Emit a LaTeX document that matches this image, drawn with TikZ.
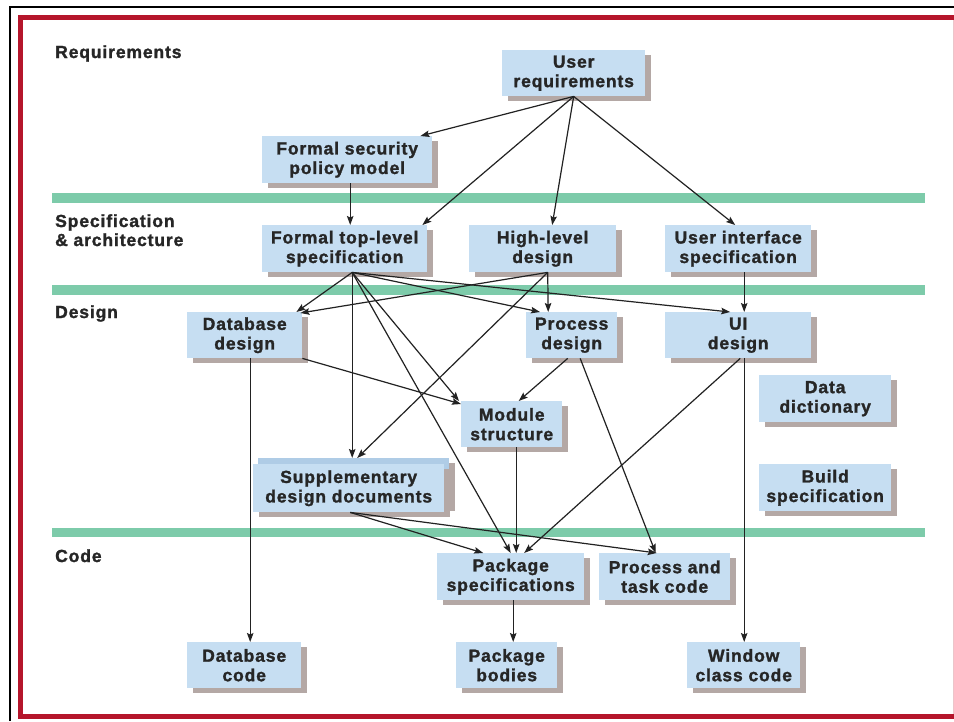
\documentclass[tikz,border=0pt]{standalone}
\usepackage{fontspec}
\newfontfamily\diagfont{Liberation Sans Bold}[LetterSpace=5, FakeBold=1.5]
\usetikzlibrary{arrows.meta,shadows}

\definecolor{boxblue}{HTML}{C6DEF2}
\definecolor{boxback}{HTML}{AFCCE6}
\definecolor{shadowcol}{HTML}{B4A8A5}
\definecolor{bandgreen}{HTML}{7DCBAA}
\definecolor{framered}{HTML}{B5152B}
\definecolor{textcol}{HTML}{262626}
\definecolor{linecol}{HTML}{222222}

\tikzset{
  labelfont/.style={font=\diagfont\fontsize{17.5}{19.5}\selectfont},
  box/.style={labelfont, fill=boxblue, draw=none, anchor=north west,
    inner sep=0pt, align=center, text=textcol,
    general shadow={fill=shadowcol, shadow xshift=6pt, shadow yshift=-5pt}},
  backbox/.style={box, fill=boxback},
  section/.style={labelfont, anchor=base west, align=left, text=textcol, inner sep=0pt},
  band/.style={fill=bandgreen},
  link/.style={draw=linecol, line width=1.2pt,
    -{Stealth[length=9pt,width=6.5pt,inset=1.5pt]}},
}

\begin{document}
\begin{tikzpicture}[x=1pt,y=-1pt]
\useasboundingbox (0,0) rectangle (954,721);
\fill[white] (0,0) rectangle (954,721);

% page frame
\draw[black, line width=2pt] (10,721) -- (10,7) -- (954,7);
\draw[framered, line width=5pt] (20,17) rectangle (962,716);
\draw[framered!25, line width=0.8pt] (953,20) -- (953,714);

% layer separators
\fill[band] (52,193) rectangle (925,203);
\fill[band] (52,285) rectangle (925,295);
\fill[band] (52,528) rectangle (925,537);

% layer titles
\node[section] (tReq) at (55,58) {Requirements};
\node[section] (tSpec) at (55,246) {Specification\\[-0.5pt]\& architecture};
\node[section] (tDes) at (55,318) {Design};
\node[section] (tCode) at (55,562) {Code};

% requirements
\node[box, minimum width=143pt, minimum height=46pt] (ur) at (502,50) {User\\requirements};
\node[box, minimum width=170pt, minimum height=47pt] (fsp) at (262,136) {Formal security\\policy model};

% specification & architecture
\node[box, minimum width=165pt, minimum height=47pt] (ftl) at (262,225) {Formal top-level\\specification};
\node[box, minimum width=147pt, minimum height=47pt] (hld) at (469,225) {High-level\\design};
\node[box, minimum width=146pt, minimum height=47pt] (uis) at (665,225) {User interface\\specification};

% design
\node[box, minimum width=115pt, minimum height=46pt] (dbd) at (187,312) {Database\\design};
\node[box, minimum width=91pt, minimum height=46pt] (pd) at (526,312) {Process\\design};
\node[box, minimum width=146pt, minimum height=46pt] (uid) at (665,312) {UI\\design};
\node[box, minimum width=101pt, minimum height=46pt] (ms) at (461,401) {Module\\structure};
\node[box, minimum width=132pt, minimum height=47pt] (dd) at (759,375) {Data\\dictionary};
\node[box, minimum width=132pt, minimum height=47pt] (bs) at (759,464) {Build\\specification};
\node[backbox, minimum width=191pt, minimum height=48pt] (sddb) at (258,458) {};
\node[box, minimum width=191pt, minimum height=48pt] (sdd) at (253,464) {Supplementary\\design documents};

% code
\node[box, minimum width=147pt, minimum height=47pt] (ps) at (437,553) {Package\\specifications};
\node[box, minimum width=131pt, minimum height=47pt] (ptc) at (599,553) {Process and\\task code};
\node[box, minimum width=114pt, minimum height=46pt] (dbc) at (187,642) {Database\\code};
\node[box, minimum width=101pt, minimum height=46pt] (pb) at (456,642) {Package\\bodies};
\node[box, minimum width=113pt, minimum height=46pt] (wcc) at (687,642) {Window\\class code};

% from user requirements
\draw[link] (ur.south) -- ([xshift=-12pt]fsp.north east);
\draw[link] (ur.south) -- ([xshift=-5pt]ftl.north east);
\draw[link] (ur.south) -- ([xshift=9.5pt]hld.north);
\draw[link] (ur.south) -- ([xshift=-3pt]uis.north);
\draw[link] ([xshift=3pt]fsp.south) -- ([xshift=5.5pt]ftl.north);

% from formal top-level specification
\draw[link] ([xshift=7.5pt]ftl.south) -- ([xshift=-6pt]dbd.north east);
\draw[link] ([xshift=7.5pt]ftl.south) -- ([xshift=14pt]pd.north west);
\draw[link] ([xshift=7.5pt]ftl.south) -- ([xshift=-8pt]uid.north);
\draw[link] ([xshift=7.5pt]ftl.south) -- ([xshift=-1.5pt]sddb.north);
\draw[link] ([xshift=7.5pt]ftl.south) -- ([xshift=-2pt]ms.north west);
\draw[link] ([xshift=7.5pt]ftl.south) -- (ps.north);

% from high-level design
\draw[link] ([xshift=5pt]hld.south) -- ([xshift=-2pt,yshift=-1pt]dbd.north east);
\draw[link] ([xshift=5pt]hld.south) -- ([xshift=-23.5pt]pd.north);
\draw[link] ([xshift=5pt]hld.south) -- ([xshift=3.5pt]sddb.north);

% from user interface specification
\draw[link] ([xshift=6pt]uis.south) -- ([xshift=6pt]uid.north);

% within design
\draw[link] ([xshift=5.5pt]dbd.south) -- ([xshift=6pt]dbc.north);
\draw[link] (dbd.south east) -- ([yshift=-3pt]ms.north west);
\draw[link] ([xshift=-4pt]pd.south) -- ([xshift=7pt]ms.north);
\draw[link] ([xshift=8.5pt]pd.south) -- ([xshift=-9pt]ptc.north);
\draw[link] ([xshift=2pt]uid.south) -- ([xshift=13.5pt]ps.north);
\draw[link] ([xshift=6pt]uid.south) -- ([xshift=0.5pt]wcc.north);
\draw[link] ([xshift=4.5pt]ms.south) -- ([xshift=5.5pt]ps.north);
\draw[link] ([xshift=1.5pt]sdd.south) -- ([xshift=-27.5pt]ps.north);
\draw[link] ([xshift=1.5pt]sdd.south) -- ([xshift=-8pt]ptc.north);

% within code
\draw[link] ([xshift=2.5pt]ps.south) -- ([xshift=6.5pt]pb.north);
\end{tikzpicture}
\end{document}
